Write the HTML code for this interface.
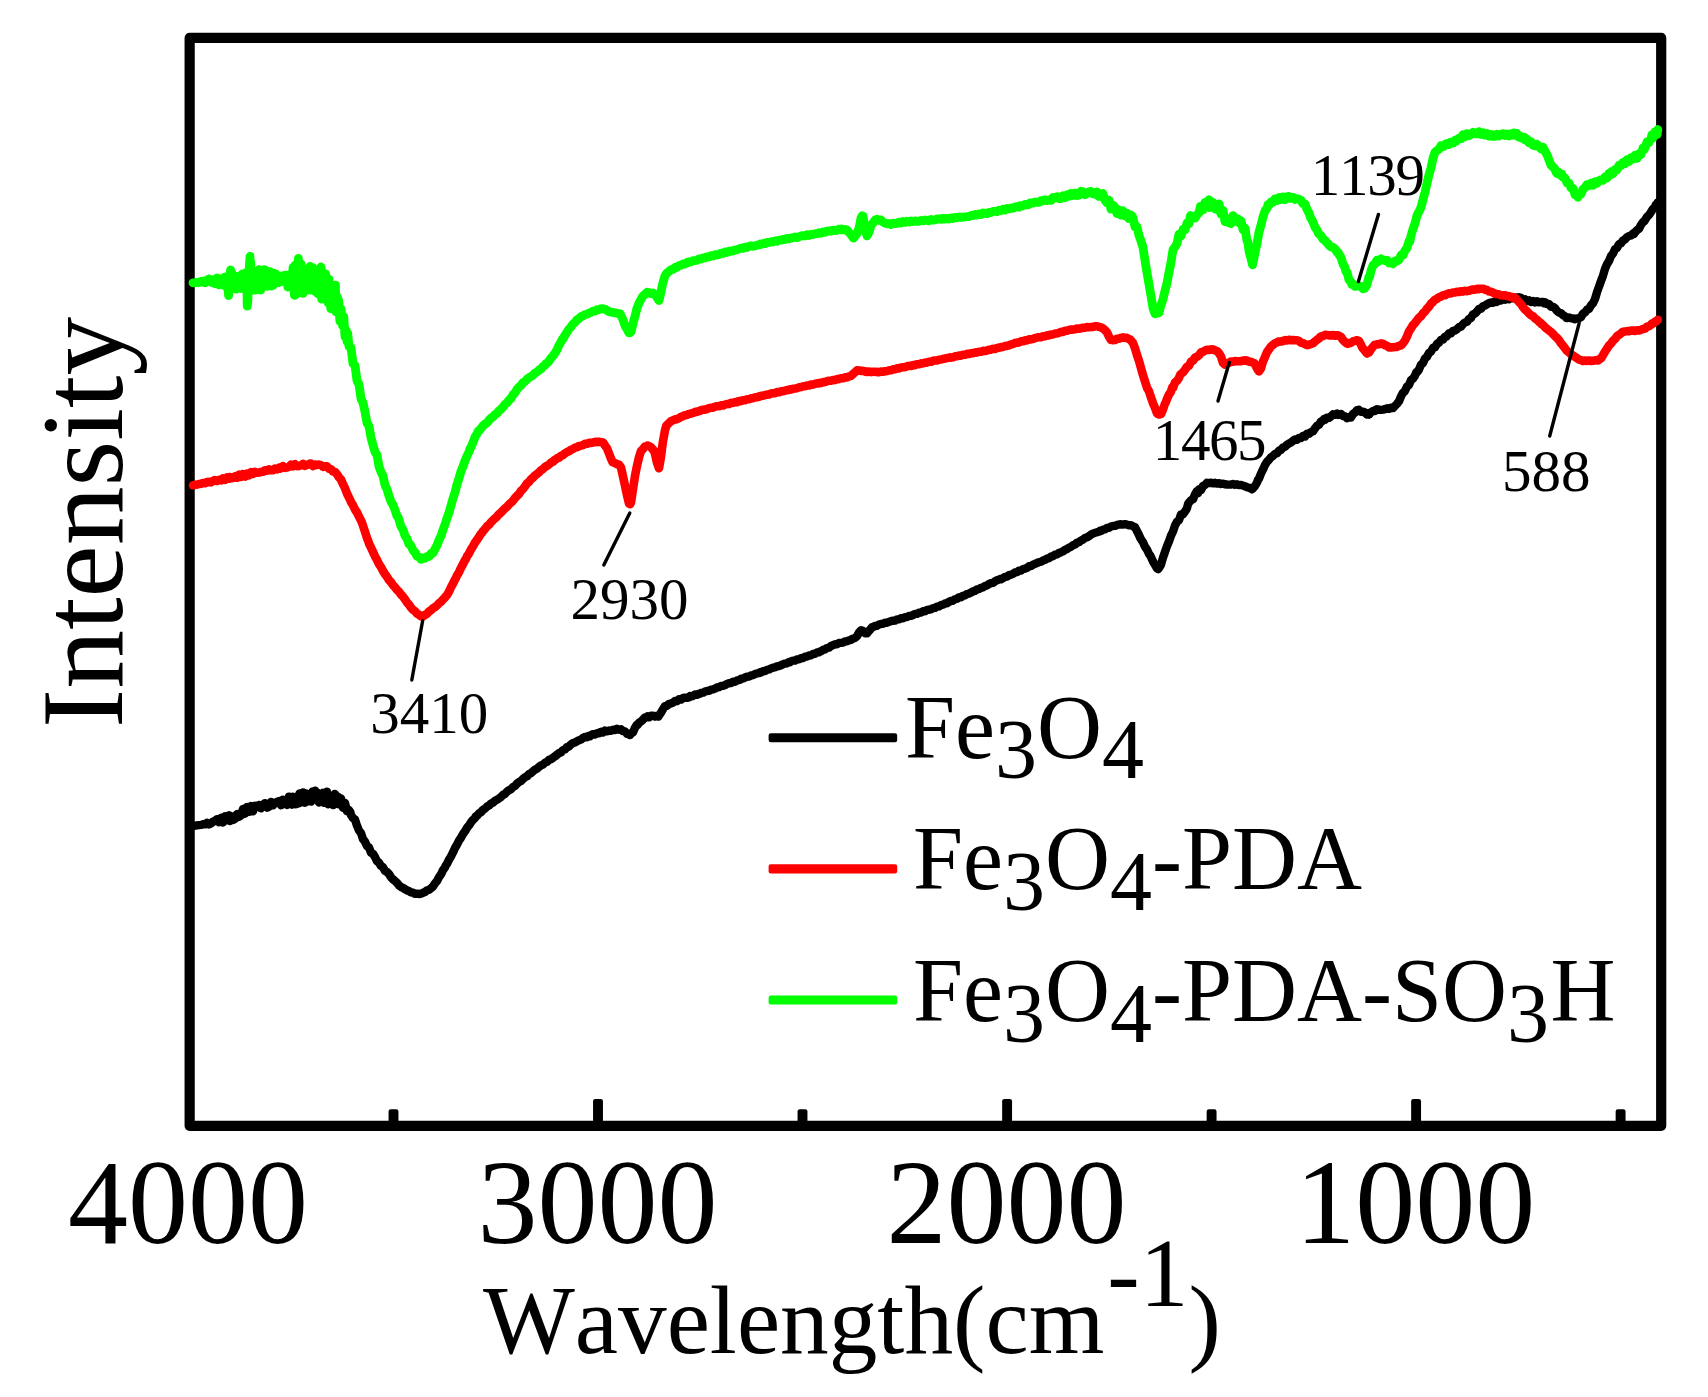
<!DOCTYPE html>
<html lang="en">
<head>
<meta charset="utf-8">
<title>FTIR spectra</title>
<style>
html,body{margin:0;padding:0;background:#fff;}
body{width:1708px;height:1397px;overflow:hidden;}
svg{display:block;}
text{font-family:"Liberation Serif","Times New Roman",Times,serif;fill:#000;font-kerning:none;font-variant-ligatures:none;}
.tick{font-size:120px;text-anchor:middle;}
.ann{font-size:59px;}
.leg{font-size:90px;}
.sub{font-size:84px;}
</style>
</head>
<body>
<svg width="1708" height="1397" viewBox="0 0 1708 1397">
<rect x="0" y="0" width="1708" height="1397" fill="#fff"/>
<!-- frame -->
<rect x="189.65" y="37.9" width="1471.55" height="1087.9" fill="none" stroke="#000" stroke-width="10.2" stroke-linejoin="round"/>
<!-- curves -->
<g fill="none" stroke-linejoin="round" stroke-linecap="round">
<path id="cblack" stroke="#000" stroke-width="8.4" d="M193.0,825.9 L195.0,825.7 L197.0,825.4 L199.0,825.1 L201.0,824.9 L203.0,824.3 L205.0,824.4 L207.0,822.9 L209.0,824.4 L211.0,823.5 L213.0,821.6 L215.0,820.8 L217.0,819.1 L219.0,822.3 L221.0,817.8 L223.0,822.5 L225.0,816.3 L227.0,820.3 L229.0,815.3 L230.0,821.1 L231.0,816.0 L233.0,820.0 L235.0,818.9 L237.0,814.0 L239.0,816.7 L241.0,815.4 L243.0,808.9 L245.0,813.7 L247.0,807.0 L249.0,811.9 L251.0,806.0 L253.0,811.3 L255.0,805.7 L257.0,806.2 L259.0,804.9 L261.0,808.3 L263.0,804.7 L265.0,803.1 L267.0,807.7 L269.0,806.7 L271.0,801.9 L273.0,805.4 L275.0,802.6 L277.0,801.9 L279.0,801.0 L281.0,805.3 L283.0,799.6 L285.0,803.2 L287.0,805.0 L289.0,796.7 L290.5,797.0 L291.8,804.7 L292.8,796.7 L294.4,802.9 L295.0,797.3 L295.7,804.2 L297.0,803.9 L298.3,795.3 L299.0,803.2 L299.6,793.5 L300.9,801.5 L302.2,801.3 L303.0,792.4 L304.8,802.7 L306.1,793.4 L307.0,793.9 L308.7,801.3 L310.0,794.1 L311.0,801.5 L312.6,791.4 L313.9,798.8 L315.0,790.7 L316.5,799.4 L317.8,792.8 L319.0,802.5 L320.4,794.6 L321.0,801.7 L321.7,801.5 L323.0,792.8 L324.3,802.9 L325.0,795.1 L325.6,800.2 L326.9,791.6 L328.2,804.2 L329.0,800.3 L330.8,803.4 L332.1,796.8 L333.0,805.1 L334.7,793.9 L336.0,795.6 L337.0,803.7 L337.9,796.7 L338.6,804.3 L341.0,798.3 L343.0,807.8 L345.0,803.0 L347.0,811.2 L349.0,810.2 L350.4,812.2 L351.0,815.2 L353.0,818.1 L355.0,819.5 L357.0,825.7 L359.0,830.5 L361.0,833.0 L363.0,839.2 L365.0,841.7 L367.0,846.1 L369.0,847.5 L371.0,852.7 L373.0,853.7 L375.0,857.0 L377.0,861.2 L379.0,862.7 L381.0,865.9 L383.0,867.3 L385.0,870.9 L387.0,872.0 L389.0,874.0 L391.0,877.3 L393.0,879.4 L395.0,881.0 L397.0,882.8 L399.0,885.4 L401.0,887.0 L403.0,887.8 L405.0,889.2 L405.6,889.4 L407.0,890.5 L409.0,891.1 L411.0,892.3 L413.0,892.7 L415.0,893.8 L417.0,893.7 L418.0,893.6 L419.0,894.1 L421.0,893.7 L423.0,892.7 L425.0,892.0 L427.0,890.4 L429.0,889.7 L430.6,888.6 L433.0,886.5 L435.0,883.4 L437.0,881.0 L439.0,877.1 L441.0,874.3 L443.0,870.2 L445.0,867.3 L445.7,865.6 L447.0,863.8 L449.0,859.7 L451.0,856.4 L453.0,852.4 L455.0,848.0 L457.0,844.6 L459.0,840.7 L460.7,838.2 L463.0,834.0 L465.0,831.3 L467.0,827.8 L469.0,825.4 L471.0,822.2 L473.0,819.8 L475.0,818.0 L475.7,816.5 L477.0,815.8 L479.0,813.4 L481.0,812.2 L483.0,809.8 L485.0,808.6 L487.0,806.6 L489.0,805.6 L491.0,803.5 L493.0,802.6 L495.0,800.7 L497.0,799.7 L499.0,798.4 L501.0,797.0 L503.0,794.8 L505.0,793.9 L505.8,792.9 L507.0,791.7 L509.0,790.2 L511.0,789.2 L513.0,786.9 L515.0,785.9 L517.0,783.6 L519.0,782.0 L521.0,781.0 L523.0,778.9 L525.0,777.3 L527.0,776.3 L529.0,774.1 L530.9,773.2 L533.0,771.3 L535.0,769.6 L537.0,768.7 L539.0,766.9 L541.0,765.4 L543.0,764.6 L545.0,762.6 L547.0,761.9 L549.0,759.8 L551.0,759.2 L553.0,757.8 L555.0,756.1 L556.0,755.9 L557.0,754.7 L559.0,753.2 L561.0,752.3 L563.0,750.1 L565.0,749.4 L567.0,747.1 L569.0,746.6 L571.0,744.3 L573.0,743.1 L575.0,742.5 L577.0,741.2 L579.0,740.2 L581.0,739.6 L583.0,737.8 L585.0,737.0 L587.0,737.2 L589.0,735.8 L590.0,736.3 L591.0,735.1 L593.0,734.2 L595.0,734.6 L597.0,733.2 L599.0,733.2 L600.0,732.2 L601.0,731.8 L603.0,732.5 L605.0,730.6 L607.0,731.4 L609.0,730.5 L610.0,730.8 L611.0,730.8 L613.0,729.8 L615.0,730.1 L617.0,728.8 L619.0,729.8 L620.0,729.7 L621.0,729.2 L623.0,731.1 L625.0,731.4 L627.0,733.8 L629.0,733.6 L630.0,735.0 L631.0,733.6 L633.0,732.2 L635.0,727.8 L637.0,724.6 L637.6,725.0 L639.0,722.8 L641.0,721.5 L643.0,719.6 L645.0,717.4 L647.0,717.4 L647.6,716.2 L649.0,717.3 L651.0,715.8 L653.0,715.8 L655.0,716.5 L657.0,715.8 L658.4,716.6 L659.0,715.5 L661.0,712.6 L663.0,709.2 L665.0,706.1 L667.0,705.8 L669.0,703.8 L671.0,703.5 L673.0,702.6 L675.0,700.9 L677.0,701.2 L679.0,699.3 L681.0,699.6 L683.0,698.0 L685.0,697.8 L687.0,697.8 L689.0,697.4 L690.0,696.1 L691.0,696.4 L693.0,695.9 L695.0,694.5 L697.0,694.8 L699.0,693.7 L700.0,693.8 L701.0,693.0 L703.0,692.7 L705.0,691.6 L707.0,691.0 L709.0,690.8 L711.0,689.7 L713.0,689.4 L715.0,688.6 L717.0,687.5 L719.0,687.2 L721.0,685.9 L723.0,685.9 L725.0,685.1 L727.0,683.9 L729.0,683.2 L731.0,683.1 L733.0,681.7 L735.0,681.7 L737.0,680.4 L739.0,680.1 L740.0,679.8 L741.0,678.8 L743.0,678.6 L745.0,677.5 L747.0,676.7 L749.0,676.6 L751.0,675.5 L753.0,675.2 L755.0,674.0 L757.0,673.4 L759.0,673.1 L760.0,672.3 L761.0,672.5 L763.0,671.2 L765.0,671.0 L767.0,669.9 L769.0,669.5 L771.0,668.4 L773.0,667.7 L775.0,667.4 L777.0,666.3 L779.0,666.0 L781.0,665.3 L783.0,664.2 L785.0,663.6 L787.0,663.3 L789.0,662.0 L790.0,662.2 L791.0,661.4 L793.0,660.6 L795.0,660.6 L797.0,659.4 L799.0,659.3 L801.0,658.2 L803.0,658.0 L805.0,656.7 L807.0,656.5 L809.0,655.5 L811.0,655.3 L813.0,654.0 L815.0,653.8 L817.0,652.5 L819.0,652.4 L820.0,651.4 L821.0,651.3 L823.0,649.9 L825.0,649.4 L827.0,648.0 L829.0,647.6 L831.0,646.0 L833.0,645.2 L835.0,644.3 L837.0,644.3 L839.0,643.0 L841.0,642.9 L843.0,642.6 L845.0,641.4 L847.0,641.3 L849.0,640.3 L851.0,639.9 L852.6,638.7 L855.0,638.0 L857.0,636.2 L859.0,632.5 L861.0,630.2 L863.0,631.0 L865.0,633.3 L866.0,633.3 L867.0,633.4 L869.0,630.8 L871.0,628.6 L872.0,627.2 L873.0,627.1 L875.0,626.0 L877.0,625.8 L879.0,624.5 L881.0,623.9 L883.0,623.8 L885.0,622.8 L887.0,622.7 L889.0,621.9 L891.0,621.1 L893.0,620.7 L895.0,620.6 L897.0,619.4 L899.0,619.4 L901.0,618.3 L903.0,618.2 L905.0,617.1 L907.0,617.0 L909.0,616.0 L911.0,615.8 L913.0,615.0 L915.0,613.9 L917.0,613.9 L919.0,612.8 L921.0,612.6 L923.0,611.3 L925.0,611.3 L927.0,609.9 L929.0,609.8 L931.0,609.2 L933.0,608.1 L935.0,607.9 L937.0,606.7 L939.0,606.4 L940.9,605.2 L943.0,604.7 L945.0,603.4 L947.0,603.2 L949.0,601.8 L951.0,600.9 L953.0,600.7 L955.0,599.2 L957.0,598.7 L959.0,597.3 L960.0,597.1 L961.0,597.2 L963.0,595.8 L965.0,595.4 L967.0,594.0 L969.0,593.6 L971.0,592.6 L973.0,591.4 L975.0,590.9 L977.0,589.4 L979.0,589.1 L981.0,587.8 L983.0,587.4 L985.0,586.0 L987.0,585.4 L989.0,584.0 L991.0,583.2 L993.0,582.8 L995.0,581.3 L997.0,580.3 L999.0,579.6 L1000.0,579.0 L1001.0,579.2 L1003.0,578.1 L1005.0,576.9 L1007.0,576.6 L1009.0,575.1 L1011.0,574.7 L1013.0,573.9 L1015.0,572.5 L1017.0,572.2 L1019.0,570.7 L1021.0,570.5 L1023.0,569.1 L1025.0,568.7 L1027.0,567.9 L1029.0,566.3 L1031.0,566.1 L1033.0,564.7 L1035.0,563.9 L1037.0,563.0 L1039.0,562.2 L1041.0,561.7 L1043.0,560.4 L1045.0,559.8 L1047.0,558.6 L1049.0,558.1 L1051.0,556.6 L1053.0,556.1 L1055.0,554.7 L1057.0,554.4 L1059.0,552.9 L1060.0,552.7 L1061.0,552.2 L1063.0,551.4 L1065.0,549.8 L1067.0,549.0 L1069.0,547.6 L1071.0,546.8 L1073.0,545.2 L1075.0,544.5 L1077.0,542.8 L1079.0,542.1 L1081.0,540.5 L1083.0,539.6 L1085.0,537.9 L1087.0,537.3 L1089.0,536.1 L1091.0,534.6 L1093.0,533.6 L1095.0,532.8 L1097.0,532.3 L1099.0,531.6 L1100.0,530.8 L1101.0,531.0 L1103.0,529.7 L1105.0,529.4 L1107.0,528.0 L1109.0,527.9 L1111.0,526.5 L1113.0,526.0 L1115.0,525.9 L1117.0,524.9 L1119.0,524.5 L1121.0,524.3 L1122.8,524.6 L1125.0,524.2 L1127.0,524.6 L1129.0,525.4 L1131.0,525.3 L1133.0,526.3 L1135.0,527.1 L1137.0,531.1 L1139.0,535.0 L1140.4,538.2 L1143.0,542.3 L1145.0,546.7 L1147.0,549.6 L1149.0,553.9 L1150.4,555.8 L1153.0,561.5 L1155.0,564.9 L1157.0,568.3 L1158.3,569.1 L1159.0,568.0 L1161.0,564.7 L1163.0,557.7 L1165.0,551.8 L1167.0,546.2 L1169.0,541.3 L1171.0,535.6 L1173.0,531.5 L1175.0,525.5 L1177.0,521.8 L1179.0,520.2 L1181.0,514.5 L1183.0,514.3 L1185.0,511.6 L1187.0,508.3 L1188.0,504.1 L1189.0,502.5 L1191.0,500.3 L1193.0,499.3 L1195.0,494.4 L1197.0,491.0 L1198.0,493.2 L1199.0,489.3 L1201.0,490.0 L1203.0,486.0 L1205.0,485.0 L1207.0,482.8 L1209.0,483.1 L1211.0,482.7 L1213.0,483.4 L1215.0,482.8 L1217.0,483.6 L1219.0,483.2 L1221.0,484.0 L1223.0,483.6 L1225.0,484.3 L1227.0,484.5 L1229.0,484.6 L1231.0,484.6 L1233.0,484.0 L1235.0,484.8 L1237.0,484.3 L1239.0,485.1 L1241.0,484.9 L1243.0,485.6 L1245.0,486.3 L1247.0,487.2 L1249.0,487.7 L1251.0,488.6 L1251.9,489.3 L1253.0,488.4 L1255.0,486.0 L1257.0,482.5 L1258.0,479.8 L1259.0,478.6 L1261.0,473.5 L1263.0,469.4 L1265.0,465.0 L1266.3,463.0 L1267.0,461.8 L1269.0,459.8 L1271.0,457.2 L1273.0,455.9 L1275.0,453.9 L1277.0,453.2 L1279.0,450.8 L1281.0,449.7 L1283.0,447.4 L1285.0,446.7 L1287.0,444.7 L1289.0,443.4 L1291.0,442.4 L1293.0,440.9 L1295.0,439.4 L1297.0,439.8 L1299.0,437.9 L1301.0,438.0 L1303.0,436.0 L1305.0,436.6 L1307.0,433.7 L1309.0,433.9 L1310.8,432.2 L1313.0,431.4 L1315.0,428.4 L1317.0,425.8 L1319.0,424.8 L1321.0,421.4 L1323.0,420.7 L1324.0,419.2 L1325.0,419.8 L1327.0,417.7 L1329.0,417.9 L1331.0,416.4 L1333.0,414.3 L1335.0,414.9 L1337.0,413.6 L1338.4,414.9 L1341.0,414.0 L1343.0,416.0 L1345.0,416.3 L1347.0,418.1 L1348.5,417.2 L1351.0,417.5 L1353.0,413.9 L1355.0,412.7 L1357.0,410.2 L1357.8,411.1 L1359.0,410.0 L1361.0,411.7 L1363.0,411.7 L1365.0,412.5 L1367.0,414.5 L1368.0,413.3 L1369.0,414.7 L1371.0,412.2 L1373.0,410.9 L1375.0,411.0 L1376.0,409.6 L1377.0,409.2 L1379.0,409.8 L1381.0,409.9 L1383.0,409.6 L1385.0,409.1 L1387.0,408.3 L1389.0,408.9 L1391.0,407.7 L1393.0,408.0 L1395.0,405.9 L1397.0,403.9 L1399.0,401.3 L1401.0,396.4 L1403.0,392.6 L1404.5,391.8 L1407.0,386.6 L1409.0,385.0 L1411.0,380.1 L1413.0,378.6 L1415.0,375.6 L1416.3,372.2 L1417.0,372.4 L1419.0,369.5 L1421.0,364.7 L1423.0,363.0 L1425.0,358.4 L1427.0,356.7 L1429.0,352.9 L1431.0,351.7 L1433.0,347.8 L1435.0,347.2 L1437.0,343.9 L1439.0,342.7 L1441.0,339.8 L1443.0,339.5 L1445.0,336.6 L1446.4,336.6 L1449.0,333.2 L1451.0,333.4 L1453.0,330.8 L1455.0,330.5 L1457.0,329.2 L1459.0,327.1 L1461.0,326.6 L1463.0,324.1 L1464.0,323.1 L1465.0,322.4 L1467.0,321.8 L1469.0,318.9 L1471.0,317.9 L1473.0,314.3 L1475.0,313.5 L1477.0,311.5 L1479.0,308.9 L1481.0,308.7 L1483.0,306.3 L1485.0,305.6 L1487.0,304.2 L1489.0,303.1 L1491.0,302.5 L1493.0,302.7 L1495.0,301.4 L1496.5,302.0 L1499.0,300.2 L1501.0,300.5 L1503.0,299.3 L1505.0,299.7 L1507.0,298.2 L1509.0,299.3 L1511.0,297.4 L1513.0,298.4 L1515.0,297.5 L1516.6,297.9 L1519.0,297.2 L1521.0,297.7 L1523.0,299.6 L1525.0,299.3 L1527.0,301.1 L1529.0,300.3 L1531.0,301.9 L1533.0,300.9 L1535.0,302.4 L1537.0,301.2 L1539.0,302.4 L1541.0,302.0 L1543.0,302.0 L1544.2,303.4 L1545.0,302.2 L1547.0,304.1 L1549.0,304.0 L1551.0,306.8 L1553.0,306.8 L1555.0,308.2 L1556.7,310.7 L1559.0,312.7 L1561.0,313.1 L1563.0,315.2 L1565.0,316.2 L1566.7,318.1 L1569.0,317.5 L1571.0,318.2 L1573.0,318.5 L1575.0,319.2 L1576.7,318.4 L1579.0,318.4 L1581.0,317.0 L1583.0,313.6 L1585.0,312.4 L1587.0,309.7 L1589.0,308.8 L1591.0,305.3 L1593.0,303.3 L1595.0,299.0 L1597.0,292.2 L1599.0,286.6 L1601.0,281.0 L1603.0,275.7 L1605.0,268.8 L1606.8,264.6 L1609.0,261.1 L1611.0,255.9 L1613.0,253.6 L1615.0,249.1 L1616.8,248.1 L1619.0,244.3 L1621.0,243.3 L1623.0,240.4 L1625.0,239.4 L1626.9,237.3 L1629.0,236.0 L1631.0,235.5 L1633.0,233.6 L1634.0,233.9 L1635.0,232.3 L1637.0,230.1 L1639.0,228.7 L1641.0,224.9 L1643.0,222.1 L1644.4,221.2 L1647.0,216.8 L1649.0,215.0 L1651.0,212.0 L1653.0,208.8 L1655.0,207.0 L1655.7,204.9 L1657.0,204.1 L1657.8,202.3"/>
<path id="cred" stroke="#ff0000" stroke-width="8.6" d="M193.0,485.3 L195.0,484.9 L197.0,484.6 L199.0,484.0 L201.0,483.8 L203.0,483.0 L205.0,483.3 L207.0,482.1 L209.0,481.9 L211.0,482.4 L213.0,480.9 L215.0,480.1 L217.0,481.0 L219.0,479.9 L221.0,480.4 L223.0,478.4 L225.0,480.0 L227.0,477.4 L229.0,478.8 L230.0,477.0 L231.0,478.2 L233.0,478.0 L235.0,476.5 L237.0,477.8 L239.0,474.6 L241.0,477.0 L243.0,474.1 L245.0,476.6 L247.0,473.5 L249.0,475.4 L251.0,472.1 L253.0,473.8 L255.0,471.9 L257.0,472.7 L259.0,472.5 L261.0,472.0 L263.0,471.8 L265.0,470.3 L267.0,470.7 L269.0,469.3 L271.0,470.3 L273.0,470.2 L275.0,468.5 L277.0,469.4 L279.0,467.8 L280.0,468.8 L281.0,467.5 L283.0,466.2 L285.0,467.9 L287.0,467.5 L289.0,466.7 L291.0,464.7 L293.0,466.2 L295.0,464.3 L297.0,466.1 L299.0,466.0 L301.0,465.3 L303.0,463.9 L305.0,465.8 L307.0,465.0 L309.0,464.0 L311.0,463.5 L313.0,466.0 L315.0,464.6 L317.0,464.9 L319.0,464.6 L321.0,465.1 L323.0,466.9 L325.0,466.2 L327.0,466.4 L329.0,468.7 L331.0,469.1 L333.0,471.6 L335.0,471.9 L337.0,474.2 L338.0,475.8 L339.0,477.4 L341.0,479.5 L343.0,484.2 L345.0,488.2 L347.0,493.5 L349.0,497.6 L350.4,500.4 L351.0,502.1 L353.0,505.2 L355.0,509.5 L357.0,512.5 L359.0,516.6 L361.0,520.5 L362.0,522.7 L363.0,525.8 L365.0,531.7 L367.0,538.0 L368.0,540.4 L369.0,543.5 L371.0,547.6 L373.0,551.9 L375.0,556.3 L377.0,559.9 L379.0,564.1 L381.0,567.1 L383.0,570.9 L385.0,574.1 L387.0,576.8 L388.0,578.3 L389.0,580.1 L391.0,582.2 L393.0,585.2 L395.0,587.2 L397.0,589.9 L399.0,591.7 L401.0,594.5 L403.0,596.7 L405.0,599.3 L407.0,602.5 L409.0,604.6 L411.0,607.7 L413.0,609.9 L415.0,611.1 L417.0,613.6 L419.0,614.8 L421.0,616.3 L421.9,616.5 L423.0,616.4 L425.0,614.8 L427.0,613.8 L429.0,611.4 L431.0,610.2 L433.0,608.2 L435.0,607.1 L437.0,605.5 L439.0,603.2 L441.0,601.8 L443.0,599.4 L445.0,597.6 L445.7,596.3 L447.0,595.1 L449.0,591.6 L451.0,587.3 L453.0,583.6 L455.0,579.5 L455.7,578.5 L457.0,575.6 L459.0,572.3 L461.0,567.8 L463.0,564.2 L465.0,560.1 L465.7,559.4 L467.0,556.3 L469.0,553.5 L471.0,549.3 L473.0,546.3 L475.0,542.6 L477.0,539.9 L479.0,536.8 L481.0,533.7 L482.0,532.7 L483.0,531.1 L485.0,529.0 L487.0,526.3 L489.0,524.8 L491.0,522.2 L493.0,520.2 L495.0,518.3 L497.0,516.7 L498.0,515.2 L499.0,514.3 L501.0,512.5 L503.0,510.3 L505.0,508.4 L507.0,506.8 L509.0,504.4 L511.0,502.6 L513.0,500.8 L515.0,498.0 L517.0,495.8 L519.0,494.0 L521.0,490.9 L523.0,489.0 L525.0,486.4 L527.0,483.4 L529.0,481.8 L530.9,479.4 L533.0,477.7 L535.0,475.4 L537.0,474.0 L539.0,472.4 L541.0,470.3 L543.0,468.9 L545.0,467.0 L547.0,465.8 L549.0,464.5 L551.0,462.6 L553.0,461.6 L555.0,459.6 L556.0,459.4 L557.0,458.3 L559.0,457.6 L561.0,455.9 L563.0,455.1 L565.0,453.3 L567.0,452.0 L569.0,451.2 L571.0,449.7 L573.0,449.0 L575.0,447.7 L577.0,447.2 L579.0,446.0 L581.0,445.7 L583.0,445.2 L585.0,443.9 L587.0,443.8 L589.0,442.8 L591.0,442.9 L593.0,442.6 L595.0,441.9 L596.0,441.7 L597.0,442.2 L599.0,441.7 L601.0,442.1 L603.0,442.5 L605.0,445.5 L607.0,448.3 L609.0,453.3 L611.0,458.7 L612.6,462.1 L615.0,463.2 L617.0,464.2 L619.0,464.7 L620.0,466.0 L621.0,467.5 L623.0,476.5 L625.0,485.6 L627.0,495.0 L629.0,503.6 L630.0,504.3 L631.0,502.6 L633.0,489.1 L635.0,475.9 L637.0,465.9 L639.0,457.3 L641.0,451.0 L643.0,449.0 L645.0,446.4 L647.0,446.1 L647.6,445.5 L649.0,446.1 L651.0,447.2 L653.0,449.7 L653.9,450.5 L655.0,453.9 L657.0,462.8 L659.0,468.3 L661.0,456.8 L662.7,443.0 L665.0,430.3 L666.4,425.5 L667.0,425.0 L669.0,423.1 L671.0,421.2 L673.0,420.3 L675.0,419.5 L677.0,419.0 L679.0,418.1 L681.0,416.8 L683.0,416.2 L685.0,415.2 L687.0,414.9 L689.0,413.9 L691.0,413.6 L693.0,413.0 L695.0,411.9 L697.0,411.9 L699.0,411.0 L700.0,411.0 L701.0,410.2 L703.0,409.8 L705.0,409.6 L707.0,409.1 L709.0,408.1 L711.0,407.7 L713.0,407.6 L715.0,406.6 L717.0,406.2 L719.0,406.3 L721.0,405.3 L723.0,405.5 L725.0,404.6 L727.0,404.0 L729.0,404.0 L730.0,403.4 L731.0,402.9 L733.0,403.0 L735.0,402.0 L737.0,402.2 L739.0,401.1 L741.0,401.2 L743.0,400.2 L745.0,400.3 L747.0,399.2 L749.0,399.3 L751.0,398.4 L753.0,398.2 L755.0,397.3 L757.0,397.3 L759.0,396.3 L760.0,396.6 L761.0,395.9 L763.0,395.8 L765.0,395.1 L767.0,394.6 L769.0,394.4 L771.0,393.6 L773.0,393.3 L775.0,393.2 L777.0,392.1 L779.0,392.3 L781.0,391.4 L783.0,391.2 L785.0,390.8 L787.0,390.1 L789.0,390.0 L790.0,389.3 L791.0,389.5 L793.0,388.7 L795.0,388.5 L797.0,388.2 L799.0,387.3 L801.0,387.2 L803.0,386.3 L805.0,386.3 L807.0,385.5 L809.0,385.4 L811.0,384.6 L813.0,384.7 L815.0,383.8 L817.0,383.3 L819.0,383.4 L820.0,382.8 L821.0,383.0 L823.0,382.1 L825.0,382.1 L827.0,381.2 L829.0,380.8 L831.0,380.8 L833.0,380.1 L835.0,380.0 L837.0,379.1 L839.0,379.1 L840.6,378.2 L843.0,378.3 L845.0,377.3 L847.0,377.4 L849.0,376.4 L850.7,376.1 L853.0,374.0 L855.0,372.3 L857.0,370.4 L858.0,370.7 L859.0,370.4 L861.0,370.9 L863.0,370.8 L865.0,371.7 L865.7,371.4 L867.0,371.9 L869.0,371.6 L871.0,372.1 L873.0,371.7 L875.0,371.7 L877.0,372.1 L878.0,371.7 L879.0,372.3 L881.0,371.6 L883.0,371.8 L885.0,371.2 L887.0,371.2 L889.0,370.3 L891.0,370.3 L893.0,369.4 L895.0,369.3 L897.0,368.4 L899.0,368.4 L900.0,367.7 L901.0,367.6 L903.0,367.3 L905.0,367.2 L907.0,366.3 L909.0,365.9 L911.0,366.0 L913.0,365.1 L915.0,365.2 L917.0,364.2 L919.0,364.2 L921.0,363.4 L923.0,363.5 L925.0,362.5 L927.0,362.6 L929.0,361.8 L931.0,361.8 L933.0,360.8 L935.0,360.5 L937.0,360.5 L939.0,359.7 L941.0,359.5 L943.0,358.9 L945.0,358.6 L947.0,358.0 L949.0,357.8 L950.0,357.3 L951.0,357.6 L953.0,357.2 L955.0,356.4 L957.0,356.2 L959.0,355.5 L961.0,355.6 L963.0,354.8 L965.0,354.8 L967.0,353.9 L969.0,354.0 L971.0,353.2 L973.0,353.2 L975.0,352.6 L977.0,352.4 L979.0,351.7 L981.0,351.8 L983.0,350.9 L985.0,351.0 L987.0,350.6 L989.0,349.8 L991.0,349.6 L993.0,348.8 L995.0,348.9 L997.0,348.1 L999.0,347.8 L1000.0,347.4 L1001.0,347.1 L1003.0,347.0 L1005.0,346.0 L1007.0,345.9 L1009.0,345.4 L1011.0,344.4 L1013.0,344.1 L1015.0,343.0 L1017.0,342.6 L1019.0,342.4 L1021.0,341.4 L1023.0,341.3 L1025.0,340.3 L1027.0,340.4 L1029.0,339.4 L1031.0,339.4 L1033.0,338.9 L1035.0,338.1 L1037.0,337.6 L1039.0,337.3 L1041.0,337.1 L1043.0,336.4 L1045.0,336.3 L1047.0,335.4 L1049.0,335.4 L1050.0,334.8 L1051.0,334.6 L1053.0,334.5 L1055.0,333.5 L1057.0,333.5 L1059.0,332.8 L1061.0,331.9 L1063.0,331.9 L1065.0,330.9 L1067.0,330.8 L1069.0,329.9 L1071.0,329.6 L1073.0,329.6 L1075.0,329.3 L1077.0,328.5 L1079.0,328.7 L1081.0,328.3 L1083.0,327.7 L1085.0,327.7 L1087.0,327.1 L1089.0,327.2 L1091.0,327.0 L1093.0,326.9 L1095.0,326.3 L1097.0,326.2 L1098.0,326.6 L1099.0,326.7 L1101.0,327.5 L1103.0,328.4 L1105.0,330.2 L1107.0,332.4 L1109.0,336.6 L1111.0,340.0 L1112.0,340.0 L1113.0,340.1 L1115.0,340.0 L1117.0,338.8 L1119.0,338.6 L1121.0,337.9 L1123.0,337.4 L1125.0,337.9 L1127.0,337.9 L1129.0,339.0 L1130.4,339.8 L1133.0,343.0 L1135.0,348.3 L1137.0,355.0 L1139.0,360.9 L1141.0,368.1 L1142.9,374.7 L1145.0,381.4 L1147.0,387.8 L1149.0,391.2 L1150.5,396.0 L1153.0,403.2 L1155.0,407.9 L1157.0,413.4 L1159.0,414.5 L1161.0,414.1 L1163.0,409.5 L1165.0,403.5 L1165.7,402.7 L1167.0,398.9 L1169.0,394.5 L1171.0,391.6 L1172.3,387.3 L1173.0,387.9 L1175.0,382.5 L1177.0,380.8 L1179.0,377.8 L1180.5,374.3 L1183.0,372.4 L1185.0,369.7 L1187.0,366.8 L1188.8,365.9 L1191.0,361.7 L1193.0,360.7 L1195.0,357.6 L1197.0,356.8 L1199.0,355.2 L1201.0,352.4 L1203.0,351.8 L1205.0,350.6 L1207.0,349.7 L1209.0,349.9 L1211.0,349.3 L1211.8,349.7 L1213.0,349.4 L1215.0,350.4 L1217.0,351.0 L1219.0,353.2 L1221.0,356.5 L1223.0,362.9 L1224.3,364.1 L1225.0,364.7 L1227.0,363.4 L1229.0,362.8 L1230.6,361.6 L1233.0,361.8 L1235.0,361.1 L1237.0,361.2 L1239.0,361.2 L1241.0,361.2 L1243.0,360.6 L1244.4,360.4 L1247.0,360.6 L1249.0,361.6 L1251.0,361.7 L1253.0,362.8 L1254.4,363.1 L1257.0,368.3 L1259.0,371.4 L1261.0,368.4 L1263.0,361.4 L1265.0,356.9 L1267.0,352.1 L1269.0,349.4 L1270.7,346.8 L1273.0,344.9 L1275.0,343.2 L1277.0,342.5 L1278.2,341.6 L1279.0,341.6 L1281.0,341.5 L1283.0,341.0 L1285.0,340.1 L1287.0,340.5 L1289.0,339.8 L1291.0,340.2 L1293.0,340.0 L1295.0,340.3 L1297.0,340.3 L1299.0,341.1 L1301.0,342.7 L1303.0,343.1 L1305.0,344.2 L1307.0,345.1 L1308.4,344.9 L1311.0,344.0 L1313.0,343.3 L1315.0,341.5 L1317.0,339.8 L1319.0,338.4 L1321.0,336.4 L1323.0,336.0 L1325.0,334.9 L1327.0,335.0 L1329.0,335.4 L1331.0,335.4 L1333.0,335.1 L1335.0,335.8 L1337.0,335.2 L1338.4,335.5 L1341.0,337.0 L1343.0,340.0 L1345.0,342.0 L1347.0,343.5 L1347.7,343.8 L1349.0,343.1 L1351.0,342.9 L1353.0,341.4 L1355.0,340.8 L1357.0,340.2 L1359.0,341.0 L1361.0,344.7 L1362.4,347.7 L1365.0,350.9 L1367.0,353.5 L1369.0,352.5 L1371.0,349.2 L1373.0,346.8 L1374.5,345.0 L1377.0,344.4 L1379.0,344.2 L1381.0,343.4 L1383.0,343.7 L1385.0,345.2 L1387.0,345.8 L1389.0,347.5 L1391.0,347.4 L1393.0,347.2 L1395.0,347.0 L1397.0,346.9 L1399.0,345.7 L1401.0,345.5 L1403.0,343.2 L1405.0,340.5 L1407.0,336.3 L1409.0,331.4 L1411.0,328.4 L1413.0,325.0 L1415.0,323.0 L1417.0,320.2 L1419.0,317.8 L1421.0,316.3 L1423.0,313.4 L1423.9,312.4 L1425.0,311.6 L1427.0,308.6 L1429.0,306.6 L1431.0,303.6 L1433.0,301.9 L1435.0,299.7 L1436.4,299.1 L1439.0,297.3 L1441.0,296.6 L1443.0,295.2 L1445.0,295.2 L1447.0,294.0 L1449.0,293.4 L1451.0,293.4 L1453.0,292.5 L1455.0,292.5 L1457.0,291.7 L1459.0,292.0 L1461.0,291.2 L1463.0,291.6 L1465.0,290.8 L1466.5,291.2 L1469.0,290.8 L1471.0,290.0 L1473.0,289.5 L1475.0,289.7 L1477.0,288.8 L1479.0,289.2 L1481.0,288.7 L1483.0,288.7 L1485.0,289.7 L1487.0,290.0 L1489.0,291.4 L1491.0,291.8 L1493.0,292.5 L1495.0,293.9 L1496.5,293.9 L1499.0,294.4 L1501.0,295.3 L1503.0,295.4 L1505.0,295.2 L1507.0,296.1 L1509.0,296.1 L1511.0,297.1 L1513.0,297.0 L1514.0,297.8 L1515.0,297.8 L1517.0,299.7 L1519.0,302.1 L1521.0,304.0 L1523.0,307.1 L1525.0,309.6 L1526.6,310.8 L1529.0,313.5 L1531.0,315.2 L1533.0,316.3 L1535.0,318.4 L1537.0,319.8 L1539.0,321.8 L1541.0,323.1 L1541.7,324.3 L1543.0,325.0 L1545.0,327.3 L1547.0,328.9 L1549.0,330.5 L1551.0,331.9 L1553.0,334.0 L1555.0,336.2 L1556.7,337.6 L1559.0,340.2 L1561.0,343.3 L1563.0,345.6 L1565.0,348.3 L1567.0,351.0 L1569.0,352.3 L1571.0,354.3 L1573.0,355.4 L1575.0,356.9 L1577.0,358.2 L1579.0,359.6 L1581.0,360.1 L1583.0,361.0 L1584.3,360.5 L1585.0,360.6 L1587.0,360.9 L1589.0,360.5 L1591.0,361.0 L1593.0,360.8 L1595.0,360.3 L1597.0,360.1 L1598.0,360.5 L1599.0,359.6 L1601.0,358.4 L1603.0,355.2 L1605.0,351.7 L1607.0,348.7 L1609.0,345.4 L1611.0,343.6 L1613.0,340.7 L1615.0,339.0 L1617.0,336.2 L1619.0,334.9 L1621.0,333.3 L1623.0,331.7 L1624.4,331.6 L1627.0,331.1 L1629.0,331.2 L1631.0,330.6 L1633.0,330.6 L1635.0,330.9 L1637.0,330.3 L1639.0,330.5 L1641.0,329.8 L1643.0,329.0 L1645.0,328.6 L1647.0,326.7 L1649.0,326.2 L1651.0,324.8 L1651.9,323.6 L1653.0,323.5 L1655.0,321.7 L1657.0,320.8 L1657.8,319.7"/>
<path id="cgreen" stroke="#00ff00" stroke-width="8.8" d="M193.0,282.9 L195.0,282.7 L197.0,282.4 L199.0,282.7 L201.0,281.3 L203.0,281.2 L205.0,282.7 L207.0,280.2 L209.0,278.9 L211.0,282.3 L212.6,279.7 L215.0,283.6 L217.0,277.9 L219.0,284.9 L221.0,278.8 L223.0,280.2 L224.2,285.5 L225.0,277.2 L226.8,277.3 L228.1,290.9 L228.6,295.5 L229.0,289.1 L230.0,275.3 L230.6,270.0 L230.7,287.4 L232.0,273.2 L233.0,287.1 L234.6,275.8 L235.9,289.2 L237.0,286.2 L238.5,284.8 L239.8,276.0 L241.0,288.6 L242.4,273.8 L243.7,287.0 L245.0,289.1 L246.3,272.5 L247.0,288.2 L247.2,306.0 L247.9,300.0 L248.9,274.8 L250.0,256.5 L250.2,284.0 L250.7,262.0 L251.0,288.3 L252.8,272.9 L254.1,290.2 L255.0,274.8 L256.7,289.8 L258.0,275.4 L259.0,269.6 L260.6,290.1 L261.9,276.7 L263.0,284.6 L264.5,269.7 L265.8,270.3 L267.0,286.3 L267.7,276.4 L268.4,281.7 L269.0,275.9 L269.7,271.7 L271.0,286.1 L272.3,275.4 L273.0,285.3 L273.6,273.2 L274.9,282.5 L276.2,274.1 L277.0,276.8 L278.8,282.5 L280.1,277.9 L281.0,281.8 L282.7,275.6 L284.0,281.2 L285.0,275.2 L286.6,276.6 L287.9,287.1 L289.0,283.2 L290.5,274.1 L291.8,287.7 L293.0,267.4 L294.4,295.3 L295.0,265.2 L295.7,294.4 L297.0,293.6 L298.3,258.5 L298.3,268.1 L299.0,289.1 L299.6,273.1 L300.9,263.9 L302.2,270.1 L303.0,293.4 L304.8,274.9 L306.1,289.8 L307.0,274.6 L308.7,290.0 L310.0,266.5 L311.0,290.2 L312.6,267.6 L313.9,275.4 L315.0,291.5 L316.5,272.1 L317.8,293.8 L319.0,275.2 L320.0,269.1 L321.0,266.9 L321.7,299.1 L323.0,279.4 L324.3,296.2 L325.0,276.5 L325.6,273.9 L326.9,281.7 L328.2,303.0 L329.0,279.4 L330.8,308.6 L332.1,289.0 L333.0,285.5 L334.7,307.0 L335.4,285.1 L336.0,311.9 L337.0,296.4 L338.6,300.3 L339.9,321.3 L341.0,309.0 L342.5,325.5 L343.8,316.9 L345.0,336.7 L346.4,330.9 L347.0,341.4 L347.7,333.3 L349.0,346.6 L351.0,347.7 L353.0,363.6 L355.0,365.5 L357.0,380.6 L359.0,384.4 L361.0,398.7 L363.0,402.7 L365.0,411.8 L367.0,423.0 L369.0,426.1 L371.0,437.6 L373.0,445.2 L375.0,451.9 L377.0,455.1 L379.0,466.5 L381.0,472.1 L383.0,476.0 L385.0,485.1 L387.0,489.3 L389.0,496.1 L391.0,501.6 L393.0,504.8 L395.0,510.0 L397.0,516.2 L398.0,516.9 L399.0,519.7 L401.0,526.4 L403.0,529.7 L405.0,535.8 L407.0,538.7 L409.0,544.1 L410.6,545.0 L413.0,550.3 L415.0,552.3 L417.0,556.2 L419.0,557.0 L421.0,559.4 L421.9,558.0 L423.0,558.4 L425.0,558.3 L427.0,556.5 L429.0,556.5 L431.0,553.5 L432.0,553.7 L433.0,552.9 L435.0,549.0 L437.0,545.4 L439.0,540.0 L441.0,535.8 L442.8,530.3 L445.0,524.5 L447.0,518.2 L449.0,512.6 L451.0,505.6 L453.0,498.3 L455.0,492.4 L457.0,484.4 L459.0,478.3 L461.0,471.3 L463.0,466.5 L465.0,460.7 L467.0,455.9 L469.0,451.9 L470.0,448.8 L471.0,447.2 L473.0,442.4 L475.0,436.9 L477.0,433.9 L478.1,431.2 L479.0,430.7 L481.0,428.5 L483.0,425.7 L485.0,423.9 L487.0,422.8 L488.2,421.4 L489.0,420.1 L491.0,418.1 L493.0,416.9 L495.0,414.5 L497.0,413.4 L499.0,410.7 L501.0,409.2 L503.0,407.2 L505.0,404.3 L507.0,402.9 L509.0,400.1 L511.0,398.4 L513.0,394.8 L515.0,392.9 L517.0,389.4 L519.0,387.0 L521.0,385.3 L523.0,382.6 L525.0,381.4 L527.0,379.2 L529.0,377.6 L531.0,376.5 L533.0,375.3 L535.0,372.9 L537.0,372.0 L539.0,370.0 L541.0,369.0 L543.0,366.4 L545.0,365.4 L545.8,363.8 L547.0,363.2 L549.0,361.2 L551.0,358.0 L553.0,356.1 L554.1,354.1 L555.0,353.1 L557.0,349.8 L559.0,345.2 L561.0,341.9 L562.3,339.2 L563.0,338.9 L565.0,335.0 L567.0,332.2 L569.0,329.0 L570.5,327.5 L573.0,323.9 L575.0,322.4 L577.0,319.8 L578.8,318.7 L581.0,316.6 L583.0,315.8 L585.0,314.6 L587.0,314.2 L589.0,313.1 L591.0,312.4 L593.0,311.1 L595.0,311.1 L597.0,309.7 L599.0,309.7 L601.0,308.6 L601.8,309.0 L603.0,308.6 L605.0,309.2 L607.0,310.3 L609.0,311.7 L611.0,312.1 L612.6,312.3 L615.0,312.9 L617.0,313.2 L619.0,314.1 L620.0,313.6 L621.0,315.5 L623.0,319.8 L625.0,325.7 L627.0,329.1 L629.0,332.8 L630.0,332.7 L631.0,332.1 L633.0,323.7 L633.9,320.0 L635.0,316.4 L637.0,308.1 L638.9,303.3 L641.0,299.4 L643.0,295.8 L645.0,294.4 L647.0,292.5 L647.6,293.1 L649.0,292.5 L651.0,293.6 L653.0,293.0 L654.7,294.2 L657.0,297.5 L659.0,300.5 L661.0,292.1 L662.2,285.7 L663.0,282.5 L665.0,275.7 L667.0,272.9 L669.0,271.5 L671.0,269.6 L673.0,269.3 L675.0,267.6 L675.8,267.1 L677.0,267.4 L679.0,265.5 L681.0,265.2 L683.0,263.9 L685.0,264.0 L687.0,262.4 L688.0,262.8 L689.0,262.0 L691.0,261.8 L693.0,260.7 L695.0,260.6 L697.0,260.2 L699.0,258.9 L700.0,258.6 L701.0,259.1 L703.0,258.0 L705.0,257.8 L707.0,256.8 L709.0,257.0 L711.0,255.7 L713.0,256.0 L715.0,254.7 L717.0,255.0 L719.0,254.5 L721.0,253.1 L723.0,253.5 L725.0,252.0 L727.0,252.5 L729.0,251.1 L730.0,251.5 L731.0,250.9 L733.0,251.1 L735.0,249.9 L737.0,249.9 L739.0,248.9 L741.0,248.2 L743.0,248.3 L745.0,247.2 L747.0,247.5 L749.0,246.3 L751.0,245.8 L753.0,246.3 L755.0,245.7 L757.0,245.3 L759.0,245.0 L760.0,243.9 L761.0,244.3 L763.0,243.5 L765.0,243.7 L767.0,242.4 L769.0,242.6 L771.0,241.6 L773.0,242.0 L775.0,240.9 L777.0,241.3 L779.0,240.2 L781.0,240.2 L783.0,239.4 L785.0,239.5 L787.0,238.3 L789.0,238.9 L790.0,238.5 L791.0,237.8 L793.0,237.9 L795.0,236.9 L797.0,237.5 L799.0,236.8 L801.0,235.9 L803.0,235.7 L805.0,235.9 L807.0,234.7 L809.0,235.5 L811.0,234.3 L813.0,234.6 L815.0,233.6 L817.0,233.7 L819.0,232.7 L820.0,233.2 L821.0,233.3 L823.0,232.0 L825.0,232.3 L827.0,231.2 L829.0,230.9 L831.0,231.3 L833.0,230.1 L835.0,230.5 L837.0,230.3 L839.0,229.2 L841.0,229.8 L841.8,229.0 L843.0,229.9 L845.0,229.4 L847.0,230.0 L849.0,232.4 L851.0,234.6 L853.0,237.7 L853.6,238.0 L855.0,236.2 L857.0,233.6 L858.0,230.5 L859.0,228.3 L861.0,218.0 L862.3,215.8 L863.0,216.1 L865.0,228.1 L867.0,235.9 L869.0,232.3 L871.0,225.2 L871.8,224.6 L873.0,223.1 L875.0,220.1 L877.0,219.2 L879.0,220.3 L881.0,219.9 L883.0,222.1 L885.0,223.3 L887.0,223.8 L889.0,223.5 L891.0,224.5 L893.0,223.2 L895.0,223.5 L897.0,223.3 L899.0,222.2 L900.0,222.2 L901.0,222.9 L903.0,221.5 L905.0,222.4 L907.0,221.2 L909.0,222.1 L911.0,221.0 L913.0,221.5 L915.0,220.8 L917.0,221.4 L919.0,221.3 L921.0,220.4 L923.0,220.8 L925.0,220.0 L927.0,220.5 L929.0,220.8 L930.0,219.7 L931.0,219.5 L933.0,220.2 L935.0,219.9 L937.0,219.0 L939.0,218.8 L941.0,219.3 L943.0,218.2 L945.0,219.2 L947.0,218.3 L949.0,219.1 L951.0,217.9 L953.0,218.5 L955.0,217.3 L957.0,217.9 L959.0,216.9 L960.0,216.8 L961.0,217.5 L963.0,217.2 L965.0,217.0 L967.0,216.7 L969.0,216.6 L971.0,215.4 L973.0,215.6 L975.0,214.4 L977.0,215.0 L979.0,213.9 L981.0,214.6 L983.0,213.0 L985.0,213.1 L987.0,213.7 L989.0,212.4 L991.0,212.6 L993.0,211.4 L995.0,211.3 L997.0,211.7 L999.0,210.2 L1001.0,210.7 L1003.0,209.3 L1005.0,210.0 L1007.0,208.4 L1009.0,208.9 L1011.0,208.0 L1013.0,208.4 L1015.0,207.0 L1017.0,206.5 L1019.0,207.2 L1020.0,205.8 L1021.0,206.2 L1023.0,205.7 L1025.0,204.3 L1027.0,204.9 L1029.0,204.4 L1030.0,203.0 L1031.0,202.9 L1033.0,203.1 L1035.0,202.0 L1037.0,202.3 L1039.0,202.3 L1041.0,200.6 L1043.0,201.0 L1045.0,199.6 L1047.0,200.6 L1049.0,199.9 L1051.0,200.4 L1053.0,197.5 L1055.0,197.8 L1057.0,196.7 L1059.0,198.6 L1061.0,198.5 L1062.7,195.7 L1065.0,197.8 L1067.0,194.9 L1069.0,196.2 L1071.0,193.4 L1073.0,195.7 L1075.0,193.0 L1077.0,195.6 L1079.0,195.2 L1081.0,191.2 L1083.0,191.9 L1085.0,194.6 L1087.0,193.5 L1089.0,191.8 L1091.0,191.4 L1092.7,193.7 L1095.0,194.3 L1097.0,191.9 L1099.0,196.5 L1101.0,196.2 L1102.8,193.5 L1105.0,200.2 L1107.0,202.8 L1109.0,200.2 L1111.0,209.2 L1112.8,205.0 L1115.0,207.5 L1117.0,213.6 L1119.0,210.0 L1121.0,215.2 L1122.8,210.7 L1125.0,215.9 L1127.0,213.1 L1129.0,218.7 L1131.0,215.0 L1132.8,217.1 L1135.0,226.9 L1137.0,226.9 L1139.0,235.6 L1141.0,241.1 L1143.0,247.4 L1145.0,260.5 L1146.8,271.5 L1149.0,284.3 L1151.0,296.0 L1153.0,308.0 L1155.0,313.8 L1156.6,313.2 L1159.0,312.8 L1161.0,305.0 L1162.9,299.6 L1165.0,290.8 L1167.0,283.0 L1169.0,272.4 L1171.0,262.4 L1173.0,249.6 L1175.0,246.9 L1177.0,243.7 L1179.0,234.2 L1181.0,236.0 L1183.0,229.5 L1185.0,229.8 L1187.0,223.2 L1189.0,223.7 L1190.5,215.5 L1193.0,218.2 L1195.0,218.1 L1197.0,214.8 L1199.0,212.7 L1200.4,206.3 L1203.0,210.0 L1205.0,202.4 L1207.0,205.5 L1209.0,199.7 L1209.7,207.6 L1211.0,201.9 L1213.0,202.5 L1215.0,208.9 L1217.0,204.6 L1218.0,210.0 L1219.0,203.8 L1221.0,214.1 L1223.0,210.3 L1225.0,221.7 L1227.0,218.7 L1228.0,222.5 L1229.0,218.8 L1231.0,223.6 L1233.0,215.6 L1235.0,218.9 L1237.0,221.7 L1238.0,218.9 L1239.0,222.8 L1241.0,220.8 L1243.0,229.8 L1245.0,228.2 L1247.0,240.9 L1247.8,241.6 L1249.0,251.0 L1250.6,257.0 L1252.6,264.8 L1255.0,252.8 L1257.0,243.8 L1259.0,232.0 L1260.7,226.3 L1263.0,216.9 L1265.0,210.8 L1267.0,208.3 L1268.2,204.3 L1269.0,205.2 L1271.0,202.0 L1273.0,202.3 L1275.0,198.8 L1277.0,200.7 L1279.0,197.5 L1281.0,199.7 L1283.0,196.8 L1285.0,199.6 L1287.0,196.8 L1289.0,196.4 L1290.7,198.4 L1293.0,197.4 L1295.0,199.5 L1297.0,198.7 L1299.0,199.2 L1301.0,200.2 L1303.0,203.7 L1305.0,203.8 L1307.0,209.4 L1309.0,213.0 L1310.8,218.3 L1313.0,221.9 L1315.0,227.2 L1317.0,230.0 L1318.3,233.2 L1319.0,234.0 L1321.0,235.7 L1323.0,239.3 L1325.0,240.2 L1327.0,243.1 L1328.3,243.8 L1329.0,245.3 L1331.0,247.1 L1333.0,247.3 L1335.0,248.9 L1337.0,252.0 L1338.3,252.6 L1339.0,254.5 L1341.0,257.5 L1343.0,264.0 L1345.0,267.5 L1345.9,271.4 L1347.0,272.2 L1349.0,279.8 L1351.0,282.0 L1352.0,284.6 L1353.0,283.9 L1355.0,286.4 L1357.0,285.9 L1358.4,285.9 L1361.0,286.3 L1363.0,288.9 L1364.7,288.4 L1367.0,284.6 L1369.0,276.5 L1369.7,276.7 L1371.0,270.6 L1373.0,265.2 L1375.0,263.8 L1377.0,260.3 L1379.0,261.3 L1381.0,258.9 L1383.0,260.0 L1385.0,260.7 L1387.0,260.1 L1389.0,263.0 L1391.0,262.5 L1393.0,263.8 L1395.0,260.9 L1397.0,261.1 L1399.0,259.7 L1401.0,255.4 L1402.3,254.1 L1403.0,255.3 L1405.0,250.3 L1407.0,248.0 L1409.0,241.1 L1409.8,241.7 L1411.0,235.9 L1413.0,228.9 L1415.0,223.5 L1417.0,215.4 L1419.0,211.7 L1421.0,207.4 L1423.0,199.6 L1425.0,192.3 L1427.0,183.2 L1428.9,174.9 L1431.0,167.9 L1433.0,158.4 L1435.0,152.1 L1436.4,151.0 L1439.0,149.1 L1441.0,145.6 L1443.0,146.8 L1443.9,146.2 L1445.0,144.5 L1447.0,143.5 L1449.0,144.5 L1450.5,142.2 L1453.0,143.1 L1455.0,140.3 L1456.4,141.1 L1459.0,138.0 L1461.0,138.7 L1463.0,134.6 L1464.6,136.9 L1467.0,133.7 L1469.0,135.7 L1471.0,134.5 L1473.0,132.4 L1475.0,133.7 L1477.0,133.9 L1479.0,131.6 L1481.0,134.5 L1483.0,132.6 L1485.0,135.2 L1487.0,133.4 L1489.0,136.1 L1491.0,134.3 L1493.0,136.5 L1494.0,135.0 L1495.0,136.4 L1497.0,134.2 L1499.0,136.0 L1501.0,134.4 L1503.0,133.6 L1505.0,135.5 L1507.0,134.0 L1509.0,136.0 L1511.0,133.9 L1513.0,135.2 L1514.0,132.8 L1515.0,135.4 L1517.0,133.5 L1519.0,137.3 L1521.0,136.5 L1523.0,138.7 L1524.3,137.1 L1525.0,139.9 L1527.0,139.2 L1529.0,142.9 L1531.0,141.8 L1533.0,145.2 L1535.0,145.8 L1537.0,144.4 L1538.4,146.0 L1541.0,148.9 L1543.0,147.2 L1545.0,151.2 L1547.0,154.7 L1549.0,159.8 L1551.0,165.1 L1553.0,167.0 L1555.0,169.2 L1556.0,172.2 L1557.0,173.4 L1559.0,172.5 L1561.0,175.5 L1561.7,173.8 L1563.0,177.4 L1565.0,177.8 L1567.0,182.8 L1569.0,182.8 L1571.0,187.8 L1573.0,188.4 L1575.0,194.8 L1577.0,194.5 L1578.0,197.3 L1579.0,193.9 L1581.0,194.1 L1583.0,189.3 L1585.0,187.7 L1586.8,184.7 L1589.0,185.5 L1591.0,183.0 L1593.0,185.4 L1595.0,181.7 L1597.0,183.3 L1599.0,180.8 L1601.0,179.7 L1603.0,180.3 L1605.0,177.0 L1607.0,178.0 L1609.0,173.2 L1611.0,174.7 L1611.8,171.3 L1613.0,173.6 L1615.0,169.4 L1617.0,169.8 L1619.0,165.2 L1621.0,165.5 L1623.0,162.4 L1625.0,163.8 L1626.9,159.7 L1629.0,161.6 L1631.0,157.7 L1633.0,159.0 L1635.0,155.3 L1636.9,158.4 L1639.0,153.5 L1641.0,154.6 L1643.0,147.9 L1644.4,149.3 L1647.0,142.0 L1649.0,142.6 L1651.0,138.6 L1651.9,134.6 L1653.0,137.9 L1655.0,131.8 L1657.0,134.6 L1657.8,129.5"/>
</g>
<!-- ticks -->
<g fill="#000">
<rect x="593.05" y="1099" width="9.9" height="24" rx="2.2"/>
<rect x="1002.15" y="1099" width="9.9" height="24" rx="2.2"/>
<rect x="1411.15" y="1099" width="9.9" height="24" rx="2.2"/>
<rect x="388.55" y="1109.3" width="9.9" height="14" rx="2.2"/>
<rect x="797.55" y="1109.3" width="9.9" height="14" rx="2.2"/>
<rect x="1206.65" y="1109.3" width="9.9" height="14" rx="2.2"/>
<rect x="1615.65" y="1109.3" width="9.9" height="14" rx="2.2"/>
</g>
<!-- tick labels -->
<text class="tick" x="188" y="1242.8">4000</text>
<text class="tick" x="597.5" y="1242.8">3000</text>
<text class="tick" x="1006.5" y="1242.8">2000</text>
<text class="tick" x="1415.2" y="1242.8">1000</text>
<!-- axis labels -->
<text id="xlab" x="483" y="1353.2" font-size="97.3">Wavelength(cm<tspan dy="-47" dx="3">-1</tspan><tspan dy="47">)</tspan></text>
<text id="ylab" transform="translate(122,728) rotate(-90)" font-size="117.5">Intensity</text>
<!-- annotations -->
<g stroke="#000" stroke-width="3.4" stroke-linecap="round">
<line x1="422.6" y1="621" x2="411.8" y2="680"/>
<line x1="629.8" y1="513" x2="603.8" y2="565"/>
<line x1="1229.3" y1="362.5" x2="1218" y2="401"/>
<line x1="1378.4" y1="214.5" x2="1358.4" y2="281.5"/>
<line x1="1579.2" y1="323" x2="1549.7" y2="436"/>
</g>
<text class="ann" id="a3410" x="370.2" y="733">3410</text>
<text class="ann" id="a2930" x="570.4" y="618.6">2930</text>
<text class="ann" id="a1465" x="1152.8" y="459.5" dx="0 -1.4 -1.4 -1.4">1465</text>
<text class="ann" id="a1139" x="1310.8" y="194.5" dx="0 -1.3 -1.3 -1.3">1139</text>
<text class="ann" id="a588" x="1501.9" y="490.7">588</text>
<!-- legend -->
<rect x="768.6" y="733.2" width="128.6" height="9.1" rx="2.2" fill="#000"/>
<rect x="768.6" y="864.3" width="128.6" height="9.1" rx="2.2" fill="#ff0000"/>
<rect x="768.6" y="995.5" width="128.6" height="9.1" rx="2.2" fill="#00ff00"/>
<text class="leg" id="l1" x="905" y="757.5">Fe<tspan class="sub" dy="20.5">3</tspan><tspan dy="-20.5">O</tspan><tspan class="sub" dy="20.5">4</tspan></text>
<text class="leg" id="l2" x="913" y="889.3">Fe<tspan class="sub" dy="20.5">3</tspan><tspan dy="-20.5">O</tspan><tspan class="sub" dy="20.5">4</tspan><tspan dy="-20.5">-PDA</tspan></text>
<text class="leg" id="l3" x="913" y="1021">Fe<tspan class="sub" dy="20.5">3</tspan><tspan dy="-20.5">O</tspan><tspan class="sub" dy="20.5">4</tspan><tspan dy="-20.5">-PDA-SO</tspan><tspan class="sub" dy="20.5">3</tspan><tspan dy="-20.5" dx="1.5">H</tspan></text>
</svg>
</body>
</html>
